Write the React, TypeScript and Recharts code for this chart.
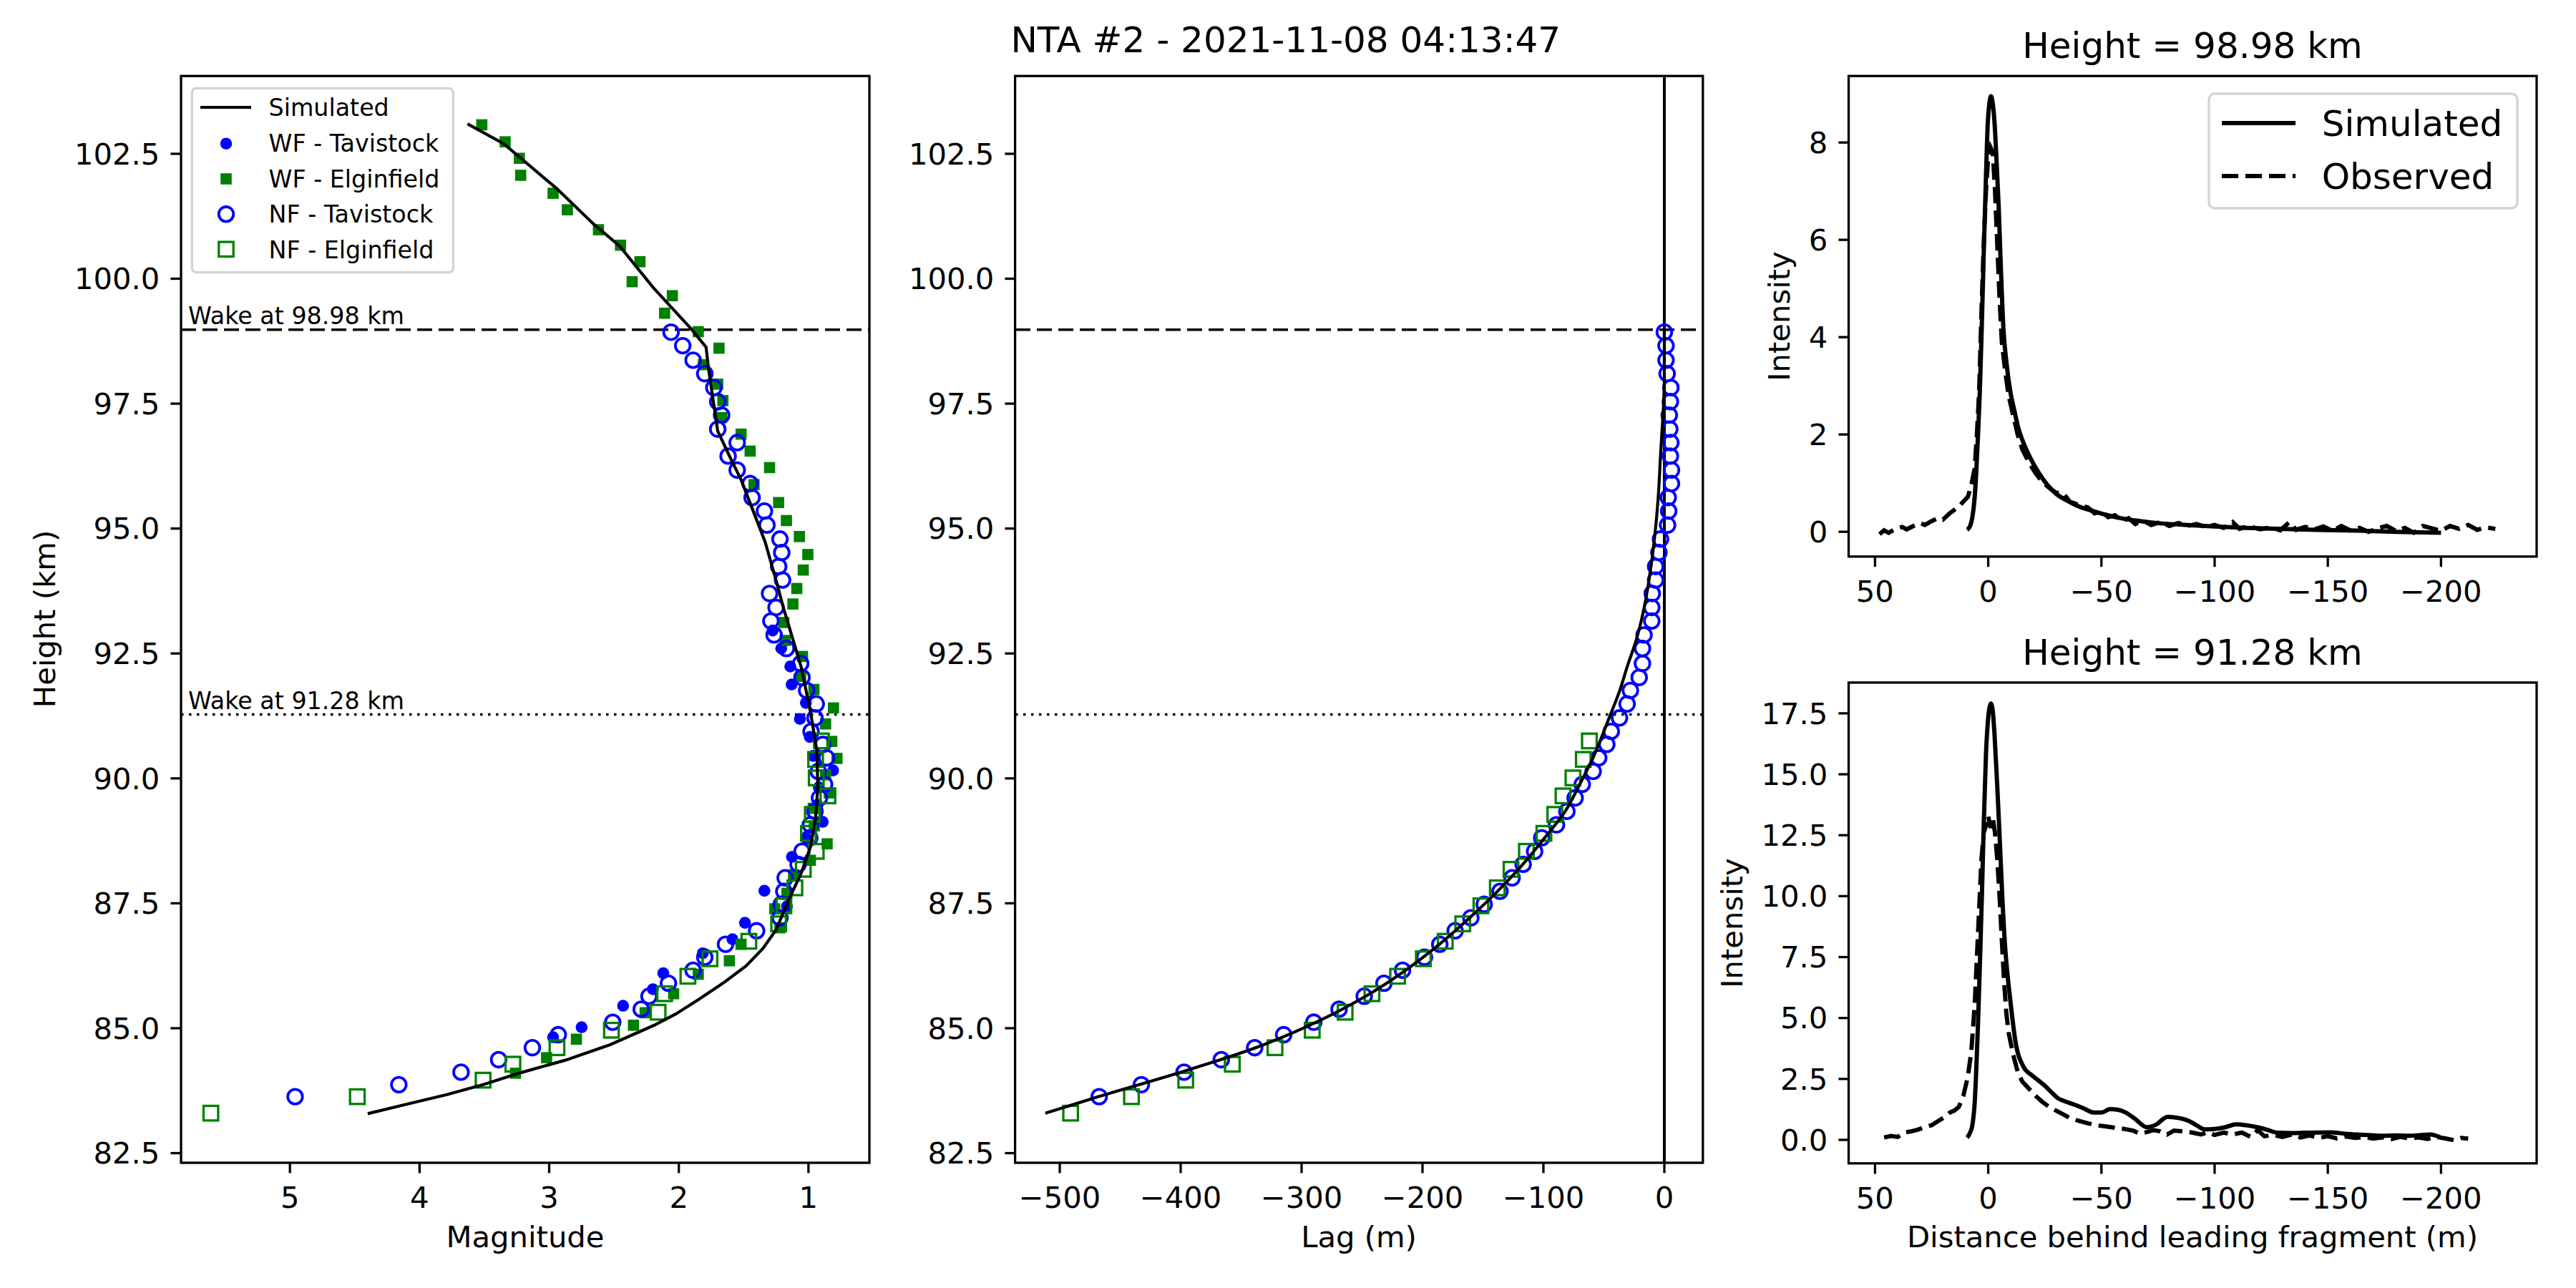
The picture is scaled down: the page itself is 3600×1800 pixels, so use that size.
import React from "react";
import { ScatterChart, Scatter, XAxis, YAxis, ReferenceLine } from "recharts";

const FONT = "DejaVu Sans, sans-serif";
const BLUE = "#0000ff";
const GREEN = "#008000";

// ---- left + middle panels ----
// simulated light curve: [height km, magnitude]
const simMagCurve: [number, number][] = [
  [103.1, 3.63], [102.7, 3.35], [101.8, 2.94], [101.1, 2.66], [100.65, 2.455],
  [99.83, 2.2], [99.0, 1.906], [98.63, 1.79], [98.18, 1.77], [96.95, 1.7],
  [96.4, 1.6], [95.96, 1.517], [94.73, 1.334], [93.9, 1.243], [93.41, 1.193],
  [92.22, 1.055], [91.31, 0.983], [90.55, 0.935], [89.83, 0.928], [89.21, 0.945],
  [88.64, 0.983], [88.11, 1.055], [87.59, 1.149], [86.97, 1.25], [86.6, 1.35],
  [86.25, 1.48], [85.9, 1.66], [85.58, 1.845], [85.29, 2.02], [85.06, 2.19],
  [84.67, 2.53], [84.36, 2.876], [84.11, 3.22], [83.88, 3.5], [83.67, 3.79],
  [83.46, 4.13], [83.29, 4.4],
];

// simulated lag: [height km, lag m]
const simLagCurve: [number, number][] = [
  [83.3, -512], [83.63, -468], [84.12, -400], [84.61, -338], [85.12, -288],
  [85.64, -247], [86.16, -214], [86.68, -186], [87.21, -161], [87.74, -138],
  [88.28, -117], [88.81, -99], [89.34, -82], [89.88, -70], [90.41, -59],
  [90.94, -50], [91.25, -45], [91.75, -37], [92.25, -30.5], [92.79, -23],
  [93.5, -16], [94.0, -12.5], [94.62, -9], [95.2, -6.5], [95.8, -4.6],
  [96.45, -3.2], [97.0, -1.8], [97.36, -0.9], [98.0, 0], [98.98, 0],
];

// WF - Tavistock: [height, mag]
const wfTavistock: [number, number][] = [
  [92.96, 1.276], [92.6, 1.21], [92.24, 1.14], [91.88, 1.13], [91.51, 1.02],
  [91.19, 1.066], [90.83, 0.99], [90.45, 0.963], [90.16, 0.81], [89.82, 0.92],
  [89.47, 0.93], [89.13, 0.89], [88.79, 1.01], [88.43, 1.127], [87.75, 1.34],
  [87.44, 1.166], [87.11, 1.49], [86.78, 1.586], [86.5, 1.815], [86.1, 2.12],
  [85.78, 2.2], [85.45, 2.43], [85.02, 2.75], [84.82, 2.97],
];

// WF - Elginfield: [height, mag]
const wfElginfield: [number, number][] = [
  [103.08, 3.52], [102.74, 3.34], [102.41, 3.23], [102.07, 3.22], [101.71, 2.97],
  [101.38, 2.86], [100.98, 2.62], [100.67, 2.45], [100.34, 2.3], [99.94, 2.36],
  [99.66, 2.05], [99.31, 2.11], [98.94, 1.85], [98.61, 1.69], [98.28, 1.81],
  [97.89, 1.7], [97.56, 1.66], [97.22, 1.67], [96.89, 1.52], [96.55, 1.45],
  [96.22, 1.3], [95.88, 1.42], [95.52, 1.23], [95.16, 1.17], [94.84, 1.07],
  [94.48, 1.005], [94.17, 1.04], [93.8, 1.09], [93.49, 1.12], [93.12, 1.19],
  [92.76, 1.18], [92.44, 1.046], [92.04, 1.06], [91.78, 0.958], [91.41, 0.807],
  [91.09, 0.868], [90.74, 0.82], [90.4, 0.78], [90.07, 0.868], [89.71, 0.84],
  [89.4, 0.963], [89.05, 0.955], [88.69, 0.856], [88.36, 0.985], [88.07, 1.115],
  [87.7, 1.166], [87.39, 1.26], [87.01, 1.22], [86.68, 1.52], [86.35, 1.61],
  [86.08, 1.85], [85.69, 2.04], [85.31, 2.26], [85.06, 2.35], [84.78, 2.79],
  [84.41, 3.02], [84.1, 3.26],
];

// NF - Tavistock: [height, mag, lag]
const nfTavistock: [number, number, number][] = [
  [98.93, 2.06, 0], [98.66, 1.97, 1.4], [98.37, 1.89, 1.4], [98.1, 1.8, 2.3],
  [97.82, 1.73, 5.4], [97.54, 1.7, 5.0], [97.27, 1.67, 4.1], [96.99, 1.7, 4.5],
  [96.72, 1.55, 5.4], [96.45, 1.62, 5.0], [96.17, 1.55, 5.9], [95.9, 1.45, 5.9],
  [95.62, 1.435, 3.2], [95.35, 1.34, 3.6], [95.07, 1.32, 2.7], [94.79, 1.22, -3.2],
  [94.52, 1.206, -4.5], [94.24, 1.23, -7.2], [93.97, 1.2, -7.2], [93.7, 1.3, -10.0],
  [93.42, 1.25, -10.4], [93.15, 1.29, -10.4], [92.87, 1.265, -16.8], [92.6, 1.17, -18.1],
  [92.3, 1.06, -18.1], [92.02, 1.05, -20.8], [91.76, 1.014, -28.1], [91.49, 0.94, -30.8],
  [91.21, 0.95, -37.1], [90.94, 0.98, -43.9], [90.68, 0.89, -47.6], [90.41, 0.86, -54.3],
  [90.14, 0.925, -58.9], [89.88, 0.876, -67.9], [89.61, 0.915, -73.8], [89.34, 0.95, -80.6],
  [89.07, 0.985, -89.2], [88.81, 0.99, -101.4], [88.54, 1.05, -107.3], [88.28, 1.08, -116.8],
  [88.01, 1.18, -125.9], [87.74, 1.19, -135.9], [87.48, 1.21, -149], [87.21, 1.22, -160],
  [86.95, 1.4, -173], [86.68, 1.64, -185.7], [86.42, 1.8, -198.4], [86.16, 1.89, -216.5],
  [85.9, 2.08, -231.9], [85.64, 2.23, -248.2], [85.38, 2.29, -269], [85.12, 2.51, -289.9],
  [84.87, 2.93, -314.8], [84.61, 3.13, -338.8], [84.37, 3.39, -366.4], [84.12, 3.68, -397.2],
  [83.87, 4.16, -432.5], [83.63, 4.96, -467.4],
];

// NF - Elginfield: [height, mag, lag]
const nfElginfield: [number, number, number][] = [
  [83.3, 5.61, -491], [83.63, 4.48, -440.7], [83.96, 3.51, -395.8], [84.28, 3.28, -357.3],
  [84.61, 2.94, -322], [84.96, 2.52, -291.2], [85.32, 2.16, -264], [85.69, 2.11, -241.8],
  [86.04, 1.93, -220.6], [86.39, 1.76, -199.3], [86.74, 1.46, -181.2], [87.09, 1.23, -166.7],
  [87.45, 1.19, -151.7], [87.81, 1.105, -138.1], [88.18, 1.04, -126.8], [88.54, 0.94, -114.1],
  [88.9, 1.0, -99.6], [89.28, 0.97, -90.6], [89.65, 0.85, -83.8], [90.01, 0.94, -75.6],
  [90.38, 0.945, -67.0], [90.75, 0.9, -62.0],
];

const wakeHigh = 98.98;
const wakeLow = 91.28;

// ---- right panels: wake profiles [distance m, intensity] ----
const highSim: [number, number][] = [
  [9.3, 0.04], [8, 0.12], [7, 0.3], [6, 0.7], [5.3, 1.22], [4.5, 2.0], [3.7, 2.9],
  [2.8, 4.3], [1.9, 5.86], [1, 7.3], [0.2, 8.4], [-0.5, 8.8], [-1.2, 8.95], [-2, 8.8],
  [-2.8, 8.4], [-3.7, 7.6], [-4.6, 6.7], [-5.6, 5.4], [-6.7, 4.18], [-8, 3.5],
  [-9.7, 2.9], [-11.5, 2.5], [-13.2, 2.15], [-16, 1.78], [-19, 1.48], [-22.5, 1.2],
  [-26, 0.97], [-30, 0.78], [-35.3, 0.63], [-40, 0.52], [-46.8, 0.42], [-52, 0.35],
  [-58.4, 0.28], [-67, 0.22], [-77, 0.17], [-88, 0.14], [-100, 0.11], [-114, 0.08],
  [-128, 0.06], [-145, 0.04], [-163, 0.025], [-180, 0.0], [-200, -0.02],
];

const highObs: [number, number][] = [
  [48, -0.05], [46, 0.03], [44, -0.02], [41, 0.06], [38, 0.1], [36, 0.05], [33, 0.12],
  [30, 0.18], [28, 0.14], [25, 0.22], [22, 0.28], [20, 0.25], [17, 0.38], [15, 0.45],
  [13, 0.52], [11, 0.62], [9, 0.72], [7.5, 0.95], [6, 1.3], [5, 2.0], [4, 2.9], [3, 4.5],
  [2, 5.9], [1, 7.0], [0, 7.7], [-1, 7.9], [-2, 7.8], [-3, 7.0], [-4, 5.9], [-5, 4.8],
  [-6, 3.9], [-7.5, 3.3], [-9, 2.8], [-11, 2.4], [-13, 2.0], [-15, 1.7], [-18, 1.42],
  [-21, 1.2], [-24, 1.02], [-27, 0.9], [-30, 0.8], [-33, 0.8], [-36, 0.62], [-40, 0.55],
  [-44, 0.5], [-47, 0.38], [-50, 0.42], [-53, 0.3], [-56, 0.34], [-59, 0.22], [-62, 0.28],
  [-65, 0.16], [-68, 0.24], [-72, 0.14], [-76, 0.2], [-80, 0.12], [-84, 0.18], [-88, 0.12],
  [-92, 0.16], [-96, 0.1], [-100, 0.14], [-104, 0.08], [-108, 0.2], [-111, 0.06],
  [-115, 0.12], [-120, 0.05], [-125, 0.09], [-129, 0.03], [-133, 0.2], [-136, 0.04],
  [-140, 0.1], [-144, 0.05], [-148, 0.11], [-152, 0.02], [-156, 0.12], [-160, 0.03],
  [-164, 0.08], [-168, 0.0], [-172, 0.07], [-176, 0.12], [-180, 0.02], [-184, 0.08],
  [-188, -0.02], [-192, 0.12], [-196, 0.07], [-200, 0.02], [-204, 0.12], [-208, 0.06],
  [-212, 0.14], [-216, 0.04], [-220, 0.09], [-224, 0.06],
];

const lowSim: [number, number][] = [
  [9.3, 0.09], [8, 0.3], [7, 0.6], [6, 1.5], [5.3, 2.84], [4.5, 4.8], [3.7, 7.15],
  [2.8, 10.0], [1.9, 13.2], [1, 15.8], [0.2, 17.1], [-0.5, 17.7], [-1.2, 17.9],
  [-2, 17.6], [-2.8, 16.6], [-4, 14.5], [-5.1, 12.3], [-6.2, 10.0], [-7.4, 8.0],
  [-8.5, 6.8], [-9.7, 5.77], [-12, 4.05], [-15.5, 3.01], [-19, 2.67], [-22, 2.45],
  [-24.8, 2.24], [-28, 1.95], [-30.6, 1.72], [-34, 1.58], [-37.6, 1.46], [-42, 1.3],
  [-46.8, 1.12], [-50, 1.12], [-53.8, 1.26], [-57, 1.24], [-60.8, 1.12], [-65, 0.85],
  [-70, 0.52], [-74, 0.62], [-79.3, 0.95], [-84, 0.9], [-88.6, 0.78], [-92, 0.6],
  [-95.5, 0.43], [-100, 0.45], [-104.8, 0.52], [-109.5, 0.64], [-114, 0.6],
  [-118.7, 0.52], [-123, 0.42], [-128, 0.29], [-134, 0.28], [-139.6, 0.29], [-145, 0.3],
  [-151.2, 0.31], [-157, 0.26], [-162.8, 0.22], [-168, 0.2], [-174.4, 0.17], [-180, 0.18],
  [-186, 0.17], [-191, 0.2], [-195.3, 0.22], [-200, 0.09],
];

const lowObs: [number, number][] = [
  [46, 0.1], [43, 0.16], [40, 0.12], [37, 0.3], [34, 0.35], [31, 0.42], [28, 0.52],
  [25, 0.6], [22, 0.78], [19, 0.95], [17, 1.12], [15, 1.2], [13, 1.35], [11, 1.8],
  [9, 2.6], [7.5, 3.6], [6, 5.5], [5, 7.5], [4, 9.5], [3, 11.5], [2, 12.6], [1, 12.9],
  [0, 13.3], [-1, 12.8], [-2, 13.2], [-3, 12.6], [-4, 11.5], [-5, 10.0], [-6, 8.2],
  [-7, 6.5], [-8, 5.2], [-9, 4.4], [-11, 3.5], [-13, 2.8], [-15, 2.4], [-18, 2.1],
  [-21, 1.8], [-24, 1.55], [-27, 1.35], [-30, 1.2], [-33, 1.05], [-36, 0.9], [-40, 0.78],
  [-44, 0.68], [-48, 0.6], [-52, 0.55], [-56, 0.5], [-60, 0.45], [-64, 0.38], [-67, 0.25],
  [-70, 0.32], [-73, 0.4], [-76, 0.35], [-79, 0.22], [-82, 0.38], [-86, 0.35], [-90, 0.3],
  [-94, 0.22], [-97, 0.32], [-100, 0.2], [-104, 0.3], [-108, 0.22], [-112, 0.3],
  [-116, 0.12], [-119, 0.4], [-122, 0.15], [-126, 0.2], [-130, 0.12], [-134, 0.22],
  [-138, 0.1], [-142, 0.18], [-146, 0.08], [-150, 0.15], [-154, 0.06], [-158, 0.14],
  [-162, 0.08], [-166, 0.12], [-170, 0.05], [-174, 0.1], [-178, 0.03], [-182, 0.12],
  [-186, 0.06], [-190, 0.1], [-194, 0.04], [-198, 0.12], [-202, 0.06], [-206, -0.02],
  [-209, 0.08], [-212, 0.05],
];

// ticks
const magTicks = [1, 2, 3, 4, 5];
const heightTicks = [82.5, 85, 87.5, 90, 92.5, 95, 97.5, 100, 102.5];
const lagTicks = [-500, -400, -300, -200, -100, 0];
const distTicks = [50, 0, -50, -100, -150, -200];
const highTicks = [0, 2, 4, 6, 8];
const lowTicks = [0, 2.5, 5, 7.5, 10, 12.5, 15, 17.5];

const leftLegend = ["Simulated", "WF - Tavistock", "WF - Elginfield", "NF - Tavistock", "NF - Elginfield"];
const rightLegend = ["Simulated", "Observed"];

// plot areas in page pixels
const boxMag = { left: 253, top: 106.2, width: 962, height: 1518.8 };
const boxLag = { left: 1418.6, top: 106.2, width: 961.2, height: 1518.8 };
const boxHigh = { left: 2583.5, top: 106.2, width: 961.5, height: 671.6 };
const boxLow = { left: 2583.5, top: 953.9, width: 961.5, height: 671.9 };

const minus = (v: number) => String(v).replace("-", "\u2212");
const oneDec = (v: number) => v.toFixed(1);

const tickStyle = { fill: "#000", fontSize: 41.7, fontFamily: FONT };
const YW = 240;
const XH = 130;
const PAD = 12;

const noShape = () => <g />;
const filledDot = (p: any) => <circle cx={p.cx} cy={p.cy} r={8.3} fill={BLUE} />;
const filledSquare = (p: any) => <rect x={p.cx - 7.8} y={p.cy - 7.8} width={15.6} height={15.6} fill={GREEN} />;
const openCircle = (p: any) => (
  <circle cx={p.cx} cy={p.cy} r={10.3} fill="none" stroke={BLUE} strokeWidth={3.8} />
);
const openSquare = (p: any) => (
  <rect x={p.cx - 10.2} y={p.cy - 10.2} width={20.4} height={20.4} fill="none" stroke={GREEN} strokeWidth={3.3} />
);

function Panel(props: any) {
  const { box, xDomain, xTicks, reversed, xFmt, yDomain, yTicks, yFmt, children } = props;
  return (
    <div style={{ position: "absolute", left: box.left - YW, top: box.top - PAD }}>
      <ScatterChart
        width={box.width + YW + PAD}
        height={box.height + PAD + XH}
        margin={{ top: PAD, right: PAD, bottom: 0, left: 0 }}
      >
        <XAxis
          type="number"
          dataKey="x"
          domain={xDomain}
          ticks={xTicks}
          reversed={reversed}
          allowDataOverflow
          interval={0}
          height={XH}
          axisLine={false}
          stroke="#000"
          tickLine={{ stroke: "#000", strokeWidth: 3.3 }}
          tickSize={14.6}
          tickMargin={19}
          tick={tickStyle}
          tickFormatter={xFmt}
        />
        <YAxis
          type="number"
          dataKey="y"
          domain={yDomain}
          ticks={yTicks}
          allowDataOverflow
          interval={0}
          width={YW}
          axisLine={false}
          stroke="#000"
          tickLine={{ stroke: "#000", strokeWidth: 3.3 }}
          tickSize={14.6}
          tickMargin={15}
          tick={tickStyle}
          tickFormatter={yFmt}
        />
        {children}
      </ScatterChart>
    </div>
  );
}

const frame = (b: { left: number; top: number; width: number; height: number }) => (
  <rect x={b.left} y={b.top} width={b.width} height={b.height} fill="none" stroke="#000" strokeWidth={3.3} />
);

export default function App() {
  const magSim = simMagCurve.map(([h, m]) => ({ x: m, y: h }));
  const lagSim = simLagCurve.map(([h, l]) => ({ x: l, y: h }));
  const wfTav = wfTavistock.map(([h, m]) => ({ x: m, y: h }));
  const wfElg = wfElginfield.map(([h, m]) => ({ x: m, y: h }));
  const nfTavMag = nfTavistock.map(([h, m]) => ({ x: m, y: h }));
  const nfTavLag = nfTavistock.map(([h, , l]) => ({ x: l, y: h }));
  const nfElgMag = nfElginfield.map(([h, m]) => ({ x: m, y: h }));
  const nfElgLag = nfElginfield.map(([h, , l]) => ({ x: l, y: h }));
  const toXY = (arr: [number, number][]) => arr.map(([x, y]) => ({ x, y }));

  const heightDomain = [82.31, 104.06];
  const distDomain = [-242.4, 61.5];

  return (
    <div style={{ position: "absolute", left: 0, top: 0, width: 3600, height: 1800, background: "#fff", fontFamily: FONT }}>
      <Panel box={boxMag} xDomain={[0.53, 5.84]} xTicks={magTicks} reversed yDomain={heightDomain} yTicks={heightTicks} yFmt={oneDec}>
        <ReferenceLine y={wakeHigh} stroke="#000" strokeWidth={3.5} strokeDasharray="21 9" />
        <ReferenceLine y={wakeLow} stroke="#000" strokeWidth={3.5} strokeDasharray="3.5 7.5" />
        <Scatter data={wfTav} shape={filledDot} isAnimationActive={false} />
        <Scatter data={wfElg} shape={filledSquare} isAnimationActive={false} />
        <Scatter data={nfTavMag} shape={openCircle} isAnimationActive={false} />
        <Scatter data={nfElgMag} shape={openSquare} isAnimationActive={false} />
        <Scatter data={magSim} shape={noShape} line={{ stroke: "#000", strokeWidth: 4.2 }} isAnimationActive={false} />
      </Panel>

      <Panel box={boxLag} xDomain={[-536.7, 32.1]} xTicks={lagTicks} xFmt={minus} yDomain={heightDomain} yTicks={heightTicks} yFmt={oneDec}>
        <ReferenceLine y={wakeHigh} stroke="#000" strokeWidth={3.5} strokeDasharray="21 9" />
        <ReferenceLine y={wakeLow} stroke="#000" strokeWidth={3.5} strokeDasharray="3.5 7.5" />
        <ReferenceLine x={0} stroke="#000" strokeWidth={4} />
        <Scatter data={nfTavLag} shape={openCircle} isAnimationActive={false} />
        <Scatter data={nfElgLag} shape={openSquare} isAnimationActive={false} />
        <Scatter data={lagSim} shape={noShape} line={{ stroke: "#000", strokeWidth: 4.2 }} lineJointType="monotoneY" isAnimationActive={false} />
      </Panel>

      <Panel box={boxHigh} xDomain={distDomain} xTicks={distTicks} reversed xFmt={minus} yDomain={[-0.506, 9.37]} yTicks={highTicks}>
        <Scatter data={toXY(highObs)} shape={noShape} line={{ stroke: "#000", strokeWidth: 6, strokeDasharray: "23 10" }} isAnimationActive={false} />
        <Scatter data={toXY(highSim)} shape={noShape} line={{ stroke: "#000", strokeWidth: 6 }} lineJointType="monotoneX" isAnimationActive={false} />
      </Panel>

      <Panel box={boxLow} xDomain={distDomain} xTicks={distTicks} reversed xFmt={minus} yDomain={[-0.966, 18.76]} yTicks={lowTicks} yFmt={oneDec}>
        <Scatter data={toXY(lowObs)} shape={noShape} line={{ stroke: "#000", strokeWidth: 6, strokeDasharray: "23 10" }} isAnimationActive={false} />
        <Scatter data={toXY(lowSim)} shape={noShape} line={{ stroke: "#000", strokeWidth: 6 }} lineJointType="monotoneX" isAnimationActive={false} />
      </Panel>

      <svg width={3600} height={1800} style={{ position: "absolute", left: 0, top: 0, pointerEvents: "none" }} fontFamily={FONT}>
        {frame(boxMag)}
        {frame(boxLag)}
        {frame(boxHigh)}
        {frame(boxLow)}

        {/* titles */}
        <text x={1412.4} y={73.3} fontSize={50}>NTA #2 - 2021-11-08 04:13:47</text>
        <text x={3064} y={81} fontSize={50} textAnchor="middle">Height = 98.98 km</text>
        <text x={3064} y={929} fontSize={50} textAnchor="middle">Height = 91.28 km</text>

        {/* axis labels */}
        <text transform="translate(77,865) rotate(-90)" fontSize={41.7} textAnchor="middle">Height (km)</text>
        <text x={734} y={1743} fontSize={41.7} textAnchor="middle">Magnitude</text>
        <text x={1899} y={1743} fontSize={41.7} textAnchor="middle">Lag (m)</text>
        <text transform="translate(2501,442) rotate(-90)" fontSize={41.7} textAnchor="middle">Intensity</text>
        <text transform="translate(2435,1290) rotate(-90)" fontSize={41.7} textAnchor="middle">Intensity</text>
        <text x={3064} y={1743} fontSize={41.7} textAnchor="middle">Distance behind leading fragment (m)</text>

        {/* wake annotations */}
        <text x={263} y={453} fontSize={33.3}>{`Wake at ${wakeHigh} km`}</text>
        <text x={263} y={991} fontSize={33.3}>{`Wake at ${wakeLow} km`}</text>

        {/* left legend */}
        <rect x={268.3} y={123.3} width={365} height={257.4} rx={6} fill="#fff" fillOpacity={0.8} stroke="#d3d3d3" strokeWidth={3.3} />
        <line x1={280} x2={351} y1={150} y2={150} stroke="#000" strokeWidth={4.2} />
        <circle cx={316} cy={200.7} r={8.3} fill={BLUE} />
        <rect x={316 - 7.8} y={250 - 7.8} width={15.6} height={15.6} fill={GREEN} />
        <circle cx={316} cy={299.3} r={10.3} fill="none" stroke={BLUE} strokeWidth={3.8} />
        <rect x={316 - 10.2} y={348.3 - 10.2} width={20.4} height={20.4} fill="none" stroke={GREEN} strokeWidth={3.3} />
        {leftLegend.map((t, i) => (
          <text key={t} x={375.5} y={162.3 + i * 49.6} fontSize={33.3}>{t}</text>
        ))}

        {/* right legend */}
        <rect x={3087} y={131} width={431} height={160} rx={8} fill="#fff" fillOpacity={0.8} stroke="#d3d3d3" strokeWidth={3.3} />
        <line x1={3105} x2={3208} y1={172} y2={172} stroke="#000" strokeWidth={6} />
        <line x1={3105} x2={3208} y1={246} y2={246} stroke="#000" strokeWidth={6} strokeDasharray="23 10" />
        {rightLegend.map((t, i) => (
          <text key={t} x={3244.7} y={190 + i * 73.5} fontSize={50}>{t}</text>
        ))}
      </svg>
    </div>
  );
}
